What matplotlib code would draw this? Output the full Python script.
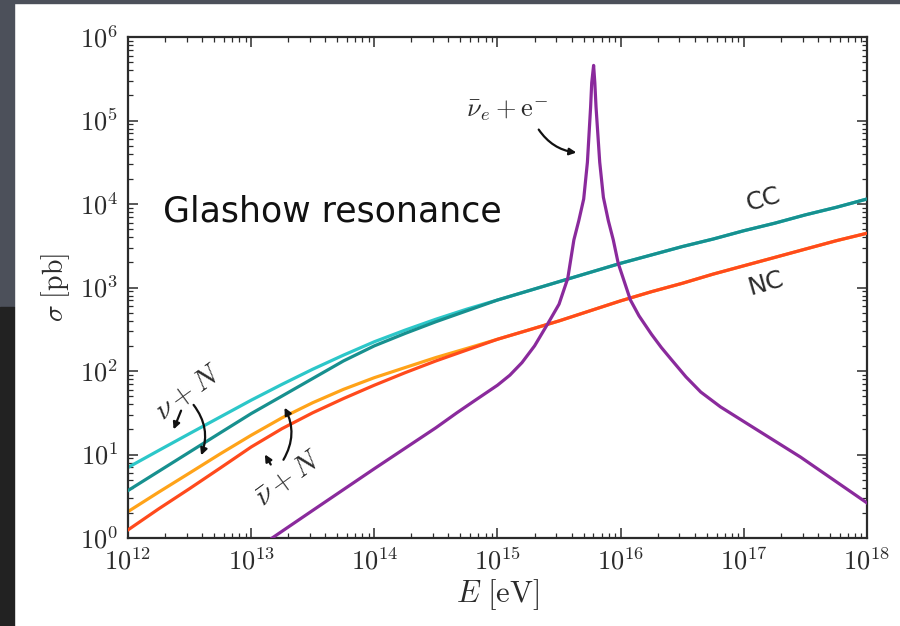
import math
import matplotlib
matplotlib.use("Agg")
import matplotlib.pyplot as plt
from matplotlib.patches import Rectangle
from matplotlib.ticker import FuncFormatter, LogLocator, NullFormatter, FixedLocator

# ── Data ─────────────────────────────────────────────────────────────────────
x_ticks = [1e12, 1e13, 1e14, 1e15, 1e16, 1e17, 1e18]
y_ticks = [1e0, 1e1, 1e2, 1e3, 1e4, 1e5, 1e6]

# neutrino-nucleon cross sections, sigma in pb, quarter-decade steps in E
E_dis = [1e12, 1.78e12, 3.16e12, 5.62e12, 1e13, 1.78e13, 3.16e13, 5.62e13,
         1e14, 1.78e14, 3.16e14, 5.62e14, 1e15, 1.78e15, 3.16e15, 5.62e15,
         1e16, 1.78e16, 3.16e16, 5.62e16, 1e17, 1.78e17, 3.16e17, 5.62e17, 1e18]
nu_cc    = [7.0, 11.2, 17.8, 28.2, 44.7, 69.2, 105, 155,
            224, 309, 417, 550, 708, 912, 1175, 1514,
            1950, 2455, 3090, 3802, 4786, 5888, 7413, 9120, 11480]
nubar_cc = [3.7, 6.3, 10.7, 18.2, 30.9, 50.1, 81.3, 132,
            200, 282, 389, 525, 708, 912, 1175, 1514,
            1950, 2455, 3090, 3802, 4786, 5888, 7413, 9120, 11480]
nu_nc    = [2.07, 3.55, 6.0, 10.2, 17.0, 27.5, 41.7, 60.3,
            83.2, 110, 145, 186, 240, 309, 398, 525,
            692, 891, 1122, 1445, 1820, 2291, 2884, 3631, 4467]
nubar_nc = [1.25, 2.24, 3.9, 6.9, 12.3, 20.4, 31.6, 46.8,
            67.6, 95.5, 132, 178, 240, 309, 398, 525,
            692, 891, 1122, 1445, 1820, 2291, 2884, 3631, 4467]

# Glashow resonance, anti-nu_e + e-
E_gr = [1.48e13, 3.16e13, 1e14, 3.16e14, 4.68e14, 6.31e14, 1e15, 1.26e15,
        1.58e15, 2.0e15, 2.57e15, 3.16e15, 3.72e15, 4.17e15, 4.57e15, 5.01e15,
        5.37e15, 5.70e15, 5.82e15, 6.03e15, 6.17e15, 6.31e15, 6.76e15, 7.24e15,
        7.94e15, 8.71e15, 9.55e15, 1.2e16, 1.41e16, 1.78e16, 2.14e16, 2.57e16,
        3.39e16, 4.47e16, 6.46e16, 1e17, 2.88e17, 1e18]
sig_gr = [1.0, 2.14, 6.76, 20.9, 31.6, 42.7, 67.6, 89.1,
          126, 200, 372, 631, 1288, 3715, 6310, 11480,
          31620, 144500, 281800, 457000, 281800, 144500, 31620, 12020,
          6310, 3715, 1950, 708, 457, 275, 191, 138,
          85, 56, 37.2, 24.8, 9.33, 2.63]

C_NU_CC, C_NUB_CC = "#2cc7c9", "#17908f"
C_NU_NC, C_NUB_NC = "#ffa319", "#ff4a1c"
C_GR = "#8a2a9c"
INK = "#2b2b2b"

plt.rcParams["mathtext.fontset"] = "cm"

fig = plt.figure(figsize=(9, 6.26), dpi=100, facecolor="white")

# slide background strips around the white panel
fig.patches.append(Rectangle((0, 1 - 3 / 626), 1, 3 / 626, transform=fig.transFigure,
                             color="#4c505a", zorder=0))
fig.patches.append(Rectangle((0, 1 - 307 / 626), 14 / 900, 307 / 626,
                             transform=fig.transFigure, color="#4c505a", zorder=0))
fig.patches.append(Rectangle((0, 0), 14 / 900, 1 - 307 / 626,
                             transform=fig.transFigure, color="#222222", zorder=0))

ax = fig.add_axes([128 / 900, 1 - 538 / 626, 739 / 900, 501 / 626])
ax.set_xscale("log")
ax.set_yscale("log")

lw = 2.3
ax.plot(E_dis, nu_cc, color=C_NU_CC, lw=lw, zorder=2)
ax.plot(E_dis, nubar_cc, color=C_NUB_CC, lw=lw, zorder=3)
ax.plot(E_dis, nu_nc, color=C_NU_NC, lw=lw, zorder=2)
ax.plot(E_dis, nubar_nc, color=C_NUB_NC, lw=lw, zorder=3)
ax.plot(E_gr, sig_gr, color=C_GR, lw=lw, zorder=4, solid_joinstyle="round")

ax.set_xlim(x_ticks[0], x_ticks[-1])
ax.set_ylim(y_ticks[0], y_ticks[-1])

# ── Axes styling ─────────────────────────────────────────────────────────────
fmt = FuncFormatter(lambda v, p: r"$10^{%d}$" % round(math.log10(v)))
for axis, ticks in ((ax.xaxis, x_ticks), (ax.yaxis, y_ticks)):
    axis.set_major_locator(FixedLocator(ticks))
    axis.set_minor_locator(LogLocator(base=10, subs=range(2, 10), numticks=10))
    axis.set_major_formatter(fmt)
    axis.set_minor_formatter(NullFormatter())
ax.tick_params(which="both", direction="in", top=True, right=True,
               colors=INK, labelsize=19)
ax.tick_params(which="major", length=7, width=1.1)
ax.tick_params(which="minor", length=3.5, width=0.9)
ax.tick_params(axis="x", pad=8)
ax.tick_params(axis="y", pad=7)
for s in ax.spines.values():
    s.set_linewidth(1.6)
    s.set_color(INK)

ax.set_xlabel(r"$E\ [\mathrm{eV}]$", fontsize=22, color=INK, labelpad=1)
ax.set_ylabel(r"$\sigma\ [\mathrm{pb}]$", fontsize=20, color=INK, labelpad=6)

# ── Annotations ──────────────────────────────────────────────────────────────
ax.text(0.047, 0.632, "Glashow resonance", transform=ax.transAxes,
        fontsize=25, family="DejaVu Sans", color="#111111", va="baseline")
ax.text(1.45e17, 1.12e4, "CC", fontsize=18, family="DejaVu Sans", color=INK,
        rotation=16, ha="center", va="center")
ax.text(1.5e17, 1.12e3, "NC", fontsize=18, family="DejaVu Sans", color=INK,
        rotation=16, ha="center", va="center")

ax.text(1.2e15, 1.35e5, r"$\bar{\nu}_e+\mathrm{e}^{-}$", fontsize=19, color=INK,
        ha="center", va="center")
ax.annotate("", xy=(4.6e15, 4.1e4), xytext=(2.1e15, 8.3e4),
            arrowprops=dict(arrowstyle="-|>", color="#111111", lw=1.6,
                            mutation_scale=10, connectionstyle="arc3,rad=0.25"))

ax.text(3.1e12, 56, r"$\nu+N$", fontsize=21, color=INK, rotation=36,
        ha="center", va="center")
ax.annotate("", xy=(2.3e12, 18.6), xytext=(2.75e12, 36),
            arrowprops=dict(arrowstyle="-|>", color="#111111", lw=1.6,
                            mutation_scale=10))
ax.annotate("", xy=(3.85e12, 9.1), xytext=(3.3e12, 41.7),
            arrowprops=dict(arrowstyle="-|>", color="#111111", lw=1.6,
                            mutation_scale=10, connectionstyle="arc3,rad=-0.3"))

ax.text(2.0e13, 5.2, r"$\bar{\nu}+N$", fontsize=21, color=INK, rotation=36,
        ha="center", va="center")
ax.annotate("", xy=(1.82e13, 38.9), xytext=(1.78e13, 8.1),
            arrowprops=dict(arrowstyle="-|>", color="#111111", lw=1.6,
                            mutation_scale=10, connectionstyle="arc3,rad=0.3"))
ax.annotate("", xy=(1.26e13, 10.7), xytext=(1.48e13, 7.1),
            arrowprops=dict(arrowstyle="-|>", color="#111111", lw=1.6,
                            mutation_scale=10))

fig.savefig("out.png", dpi=100, facecolor=fig.get_facecolor())
